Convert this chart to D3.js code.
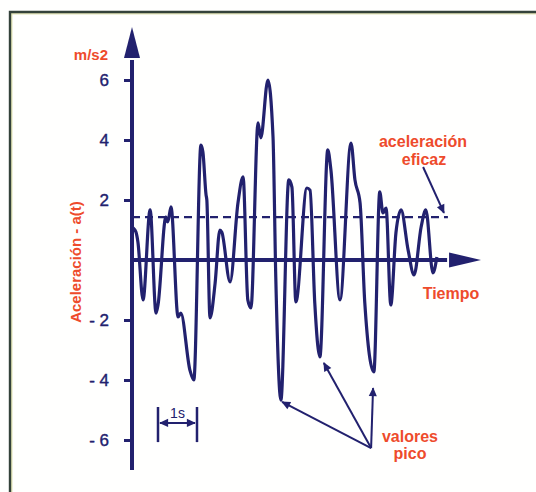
<!DOCTYPE html>
<html>
<head>
<meta charset="utf-8">
<script src="https://cdn.jsdelivr.net/npm/d3@7"></script>
<style>
html, body { margin: 0; padding: 0; background: #fff; }
svg { display: block; font-family: "Liberation Sans", Arial, sans-serif; }
</style>
</head>
<body>
<div id="grafico"></div>
<script>
// señal de aceleración: tiempo en s, aceleración en m/s2
const tiempo = [0.03, 0.10, 0.15, 0.28, 0.46, 0.61, 0.66, 0.86, 0.91, 0.99,
    1.17, 1.24, 1.47, 1.57, 1.75, 1.80, 1.88, 1.90, 1.98, 2.11,
    2.23, 2.28, 2.49, 2.69, 2.82, 2.94, 3.02, 3.20, 3.27, 3.45,
    3.58, 3.65, 3.78, 3.98, 4.06, 4.16, 4.44, 4.52, 4.64, 4.77,
    4.97, 5.05, 5.28, 5.56, 5.66, 5.79, 5.91, 6.14, 6.29, 6.37,
    6.45, 6.57, 6.70, 6.83, 7.01, 7.16, 7.34, 7.46, 7.64, 7.74];
const aceleracion = [1.07, 0.93, 0.6, -1.33, 1.67, -1.77, -1.5, 1.43, 1.27, 1.77,
    -1.9, -1.77, -3.67, -4.0, 3.83, 3.6, 2.17, 2.0, -1.93, -0.77,
    1.0, 0.93, -0.73, 1.9, 2.77, -1.33, -1.6, 4.57, 4.07, 6.0,
    4.1, -0.57, -4.67, 2.67, 2.43, -1.4, 2.4, 2.33, -1.43, -3.23,
    3.67, 3.0, -1.33, 3.9, 2.67, 1.9, -1.43, -3.73, 2.27, 1.57,
    1.73, -1.5, 0.9, 1.67, 0.33, -0.5, 1.1, 1.67, -0.43, 0.1];

// valor eficaz (línea discontinua) y su extensión en el tiempo
const valorEficaz = 1.43;
const tramoEficaz = [0, 8.02];

// marcas del eje vertical
const ticksY = [6, 4, 2, -2, -4, -6];
const etiquetasY = ['6', '4', '2', '- 2', '- 4', '- 6'];

// flechas de anotación [t, a]
const flechaEficaz = [[7.39, 3.1], [7.92, 1.57]];
const origenPicos = [6.07, -6.27];
const destinosPicos = [[3.81, -4.73], [4.87, -3.43], [6.12, -4.27]];
const marcaSegundo = [0.66, 1.65];

const ancho = 536, alto = 492;
const azul = '#22216e';
const rojo = '#ee4b2c';

const svg = d3.select('#grafico').append('svg')
    .attr('width', ancho)
    .attr('height', alto);

// escalas: eje x en segundos, eje y en m/s2
const x = d3.scaleLinear().domain([0, 8.86]).range([132, 481]);
const y = d3.scaleLinear().domain([-6, 6]).range([440, 80]);

// marco del cuadro (solo arriba e izquierda se ven en el original)
svg.append('rect')
    .attr('x', 0).attr('y', 0)
    .attr('width', ancho).attr('height', alto)
    .attr('fill', '#fffffe');
svg.append('path')
    .attr('d', `M11,${alto} V13 H${ancho}`)
    .attr('fill', 'none')
    .attr('stroke', '#e4e6b8')
    .attr('stroke-width', 3);
svg.append('path')
    .attr('d', `M10,${alto} V12 H${ancho}`)
    .attr('fill', 'none')
    .attr('stroke', '#34423a')
    .attr('stroke-width', 2.4);

// punta de flecha para anotaciones
svg.append('defs').append('marker')
    .attr('id', 'punta')
    .attr('viewBox', '0 0 10 10')
    .attr('refX', 9).attr('refY', 5)
    .attr('markerUnits', 'userSpaceOnUse')
    .attr('markerWidth', 11).attr('markerHeight', 9)
    .attr('orient', 'auto-start-reverse')
    .append('path')
    .attr('d', 'M0,0.5 L10,5 L0,9.5 z')
    .attr('fill', azul);

// línea de aceleración eficaz
svg.append('line')
    .attr('x1', x(tramoEficaz[0])).attr('x2', x(tramoEficaz[1]))
    .attr('y1', y(valorEficaz)).attr('y2', y(valorEficaz))
    .attr('stroke', azul)
    .attr('stroke-width', 2.2)
    .attr('stroke-dasharray', '8,5');

// señal
const puntos = tiempo.map((t, i) => [t, aceleracion[i]]);
const linea = d3.line()
    .x(d => x(d[0]))
    .y(d => y(d[1]))
    .curve(d3.curveMonotoneX);

svg.append('path')
    .datum(puntos)
    .attr('d', linea)
    .attr('fill', 'none')
    .attr('stroke', azul)
    .attr('stroke-width', 3.2)
    .attr('stroke-linejoin', 'round');

// ejes con flecha
const x0 = x(0), y0 = y(0);
const puntaY = y(7.77), baseY = y(6.73);
const puntaX = x(8.86), baseX = x(8.05);

svg.append('line')
    .attr('x1', x0).attr('x2', x0)
    .attr('y1', y(-7)).attr('y2', baseY + 2)
    .attr('stroke', azul).attr('stroke-width', 4);
svg.append('path')
    .attr('d', `M${x0},${puntaY} L${x0 + 8},${baseY} L${x0 - 8},${baseY} Z`)
    .attr('fill', azul);

svg.append('line')
    .attr('x1', x0 - 2).attr('x2', baseX - 2)
    .attr('y1', y0).attr('y2', y0)
    .attr('stroke', azul).attr('stroke-width', 4);
svg.append('path')
    .attr('d', `M${puntaX},${y0} L${baseX},${y0 - 7.5} L${baseX},${y0 + 7.5} Z`)
    .attr('fill', azul);

// marcas y números del eje y
const ejeY = svg.append('g')
    .attr('transform', `translate(${x0},0)`)
    .call(d3.axisLeft(y)
        .tickValues(ticksY)
        .tickSize(8)
        .tickPadding(15)
        .tickFormat((d, i) => etiquetasY[i]));
ejeY.select('.domain').remove();
ejeY.selectAll('.tick line')
    .attr('stroke', azul)
    .attr('stroke-width', 3);
ejeY.selectAll('.tick text')
    .attr('fill', azul)
    .attr('font-family', '"Liberation Sans", Arial, sans-serif')
    .attr('font-size', 17)
    .attr('stroke', azul)
    .attr('stroke-width', 0.4);

// textos en rojo
const textoRojo = (tx, ty, cadena, anchor) => svg.append('text')
    .attr('x', tx).attr('y', ty)
    .attr('text-anchor', anchor || 'middle')
    .attr('fill', rojo)
    .attr('font-weight', 'bold')
    .attr('font-size', 16)
    .text(cadena);

textoRojo(x0 - 24, 60, 'm/s2', 'end').attr('font-size', 15);
textoRojo(81, 262, 'Aceleración - a(t)')
    .attr('font-size', 15)
    .attr('transform', 'rotate(-90, 81, 262)');
textoRojo(423, 147, 'aceleración');
textoRojo(424, 165, 'eficaz');
textoRojo(451, 299, 'Tiempo');
textoRojo(410, 442, 'valores');
textoRojo(410, 459, 'pico');

// flecha a la línea eficaz
svg.append('line')
    .attr('x1', x(flechaEficaz[0][0])).attr('y1', y(flechaEficaz[0][1]))
    .attr('x2', x(flechaEficaz[1][0])).attr('y2', y(flechaEficaz[1][1]))
    .attr('stroke', azul).attr('stroke-width', 2)
    .attr('marker-end', 'url(#punta)');

// flechas a los valores pico
svg.selectAll('.flecha-pico')
    .data(destinosPicos)
    .join('line')
    .attr('class', 'flecha-pico')
    .attr('x1', x(origenPicos[0])).attr('y1', y(origenPicos[1]))
    .attr('x2', d => x(d[0])).attr('y2', d => y(d[1]))
    .attr('stroke', azul).attr('stroke-width', 2)
    .attr('marker-end', 'url(#punta)');

// escala de 1 s
const segundo = svg.append('g');
marcaSegundo.forEach(t => {
    segundo.append('line')
        .attr('x1', x(t)).attr('x2', x(t))
        .attr('y1', y(-4.9)).attr('y2', y(-6.07))
        .attr('stroke', azul).attr('stroke-width', 2.5);
});
segundo.append('line')
    .attr('x1', x(marcaSegundo[0]) + 2).attr('x2', x(marcaSegundo[1]) - 2)
    .attr('y1', y(-5.43)).attr('y2', y(-5.43))
    .attr('stroke', azul).attr('stroke-width', 2)
    .attr('marker-start', 'url(#punta)')
    .attr('marker-end', 'url(#punta)');
segundo.append('text')
    .attr('x', (x(marcaSegundo[0]) + x(marcaSegundo[1])) / 2)
    .attr('y', y(-5.27))
    .attr('text-anchor', 'middle')
    .attr('fill', azul)
    .attr('font-size', 14)
    .text('1s');
</script>
</body>
</html>
